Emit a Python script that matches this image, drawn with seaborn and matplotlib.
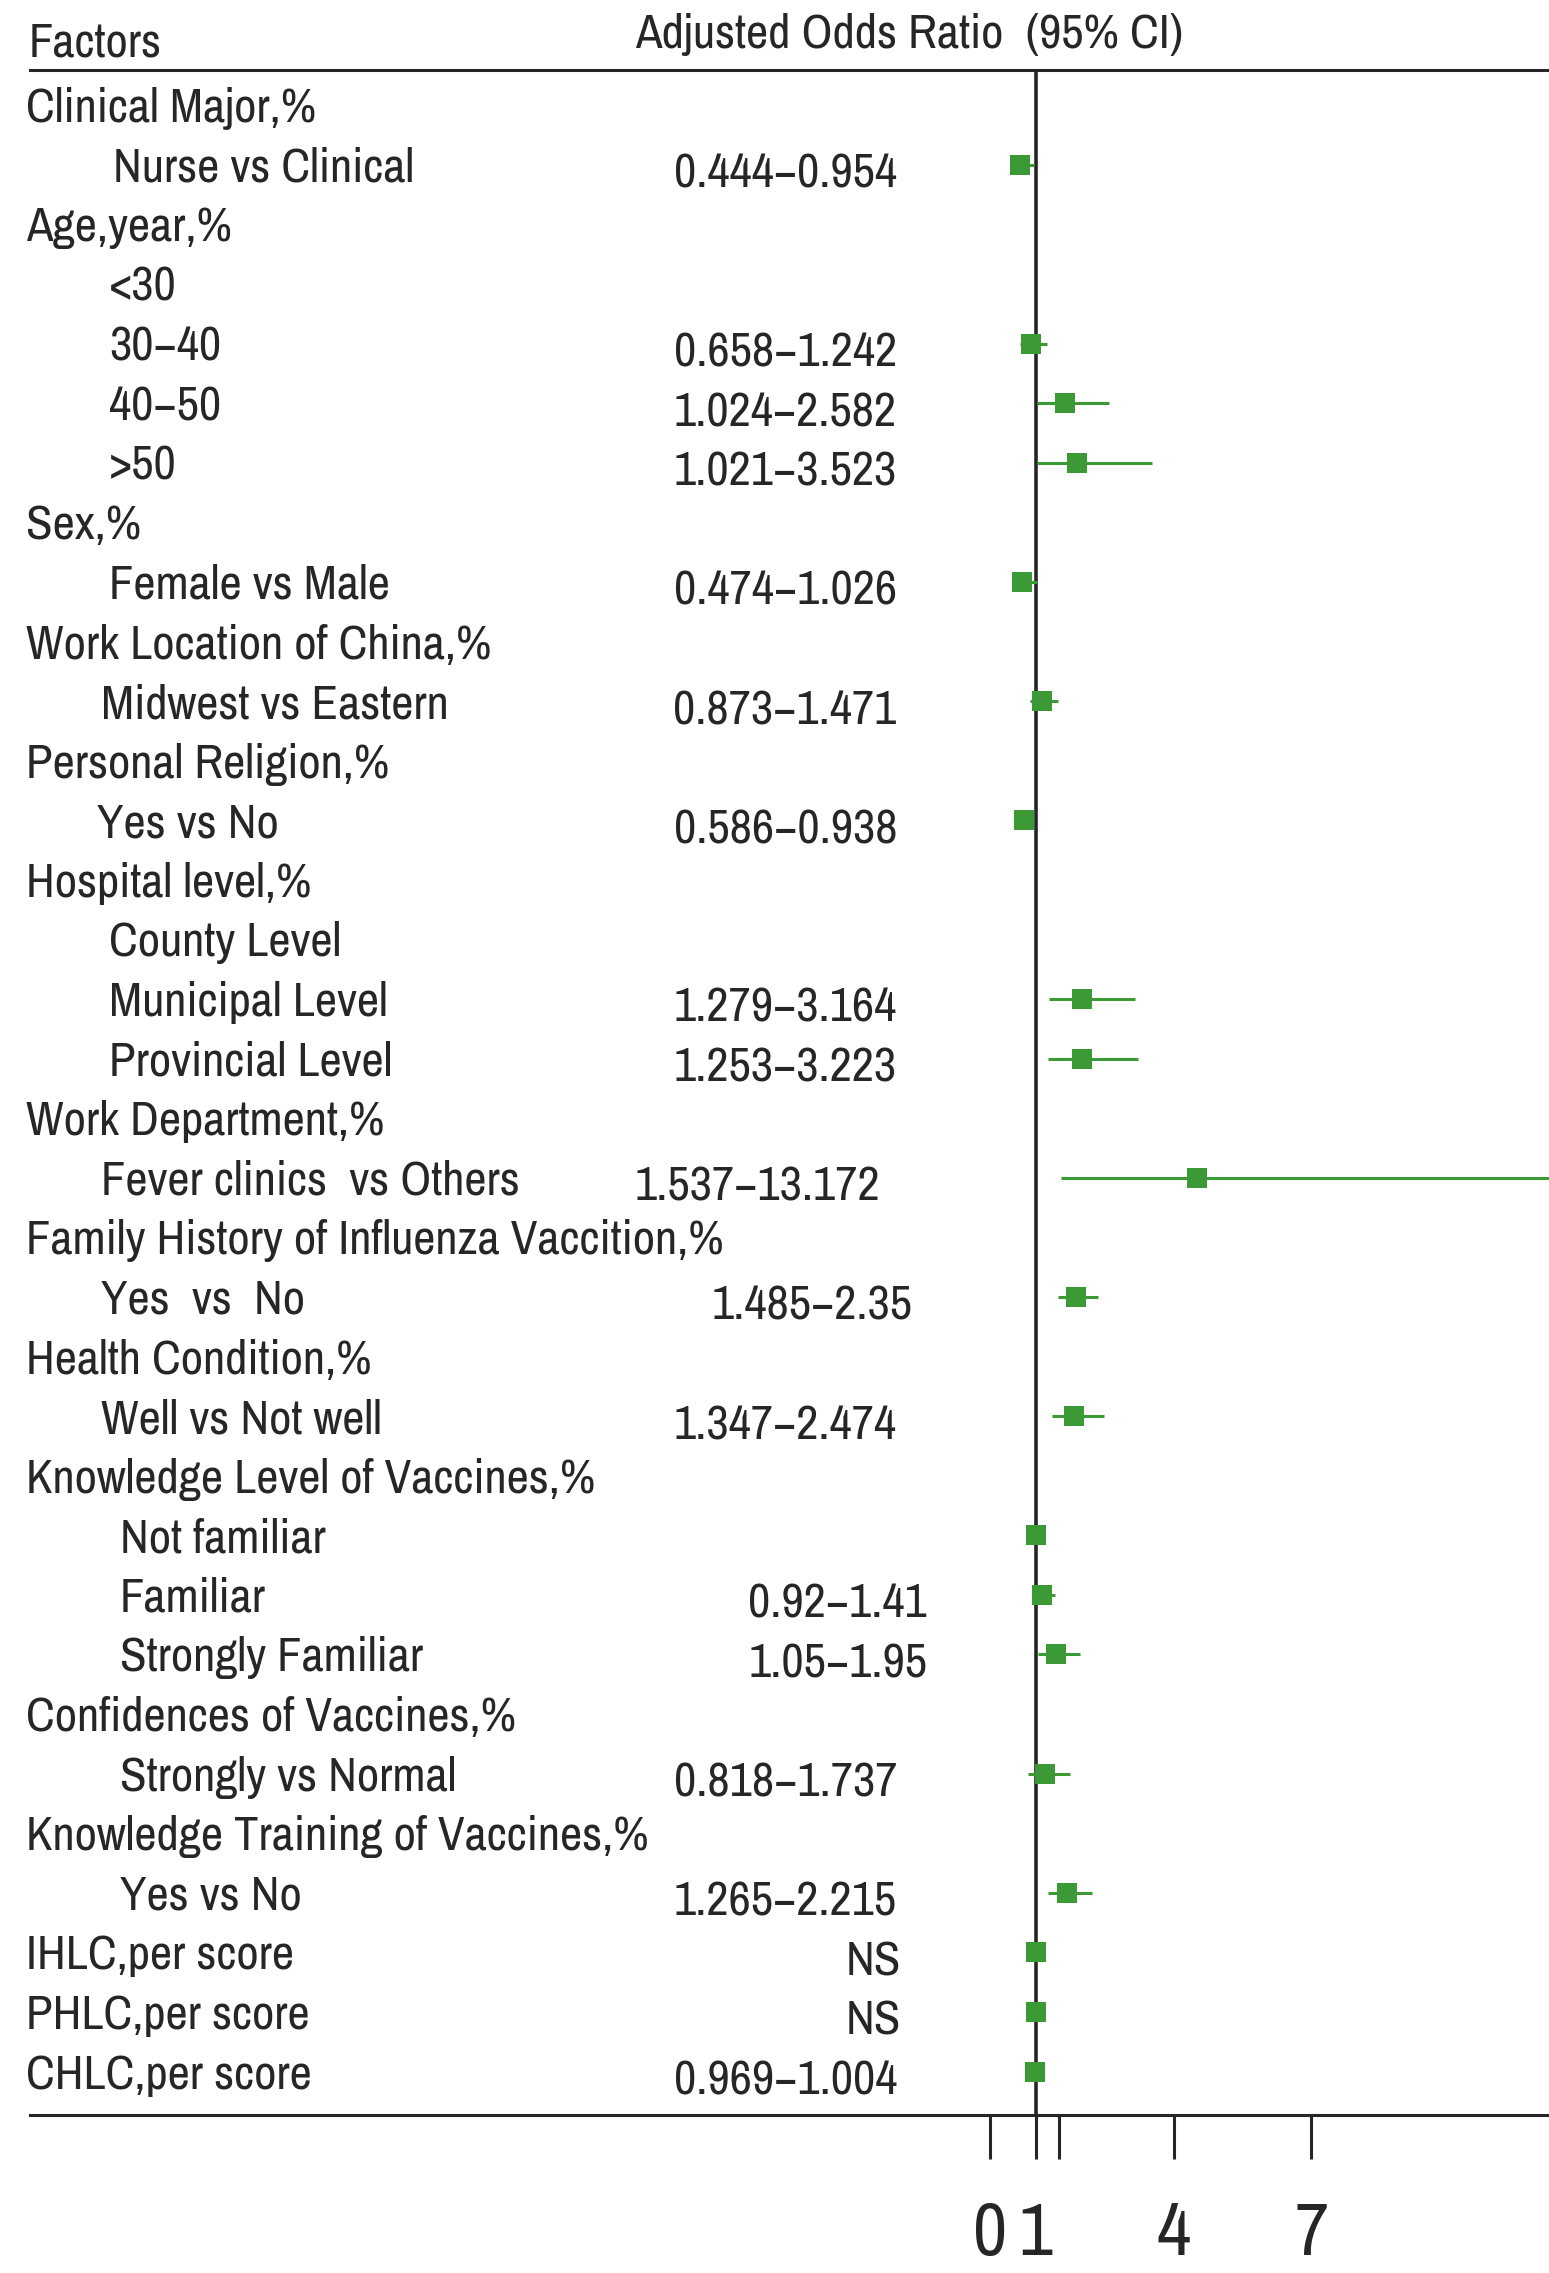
import matplotlib
matplotlib.use("Agg")
import matplotlib.pyplot as plt
import matplotlib.transforms as mtransforms
import numpy as np
import pandas as pd
import seaborn as sns

# ---- data ----
labels = [
    "Clinical Major,%", "Nurse vs Clinical",
    "Age,year,%", "<30", "30\u221240", "40\u221250", ">50",
    "Sex,%", "Female vs Male",
    "Work Location of China,%", "Midwest vs Eastern",
    "Personal Religion,%", "Yes vs No",
    "Hospital level,%", "County Level", "Municipal Level", "Provincial Level",
    "Work Department,%", "Fever clinics  vs Others",
    "Family History of Influenza Vaccition,%", "Yes  vs  No",
    "Health Condition,%", "Well vs Not well",
    "Knowledge Level of Vaccines,%", "Not familiar", "Familiar", "Strongly Familiar",
    "Confidences of Vaccines,%", "Strongly vs Normal",
    "Knowledge Training of Vaccines,%", "Yes vs No",
    "IHLC,per score", "PHLC,per score", "CHLC,per score",
]
ci_text = [
    "", "0.444\u22120.954",
    "", "", "0.658\u22121.242", "1.024\u22122.582", "1.021\u22123.523",
    "", "0.474\u22121.026",
    "", "0.873\u22121.471",
    "", "0.586\u22120.938",
    "", "", "1.279\u22123.164", "1.253\u22123.223",
    "", "1.537\u221213.172",
    "", "1.485\u22122.35",
    "", "1.347\u22122.474",
    "", "", "0.92\u22121.41", "1.05\u22121.95",
    "", "0.818\u22121.737",
    "", "1.265\u22122.215",
    "NS", "NS", "0.969\u22121.004",
]
nan = np.nan
odds_ratio = [
    nan, 0.65,
    nan, nan, 0.90, 1.63, 1.90,
    nan, 0.70,
    nan, 1.13,
    nan, 0.74,
    nan, nan, 2.01, 2.01,
    nan, 4.50,
    nan, 1.87,
    nan, 1.83,
    nan, 1.00, 1.14, 1.43,
    nan, 1.19,
    nan, 1.67,
    1.00, 1.00, 0.99,
]
ci_low = [
    nan, 0.444,
    nan, nan, 0.658, 1.024, 1.021,
    nan, 0.474,
    nan, 0.873,
    nan, 0.586,
    nan, nan, 1.279, 1.253,
    nan, 1.537,
    nan, 1.485,
    nan, 1.347,
    nan, nan, 0.92, 1.05,
    nan, 0.818,
    nan, 1.265,
    nan, nan, 0.969,
]
ci_high = [
    nan, 0.954,
    nan, nan, 1.242, 2.582, 3.523,
    nan, 1.026,
    nan, 1.471,
    nan, 0.938,
    nan, nan, 3.164, 3.223,
    nan, 13.172,
    nan, 2.35,
    nan, 2.474,
    nan, nan, 1.41, 1.95,
    nan, 1.737,
    nan, 2.215,
    nan, nan, 1.004,
]
tick_values = [0, 1, 1.5, 4, 7]
tick_labels = ["0", "1", "", "4", "7"]

# ---- layout (pixels of the 1549x2273 canvas) ----
W, H = 1549, 2273
label_left_px = [
    26, 113, 26, 109, 109, 109, 109, 26, 109, 26, 101, 26, 97, 26, 109, 109, 109,
    26, 101, 26, 101, 26, 101, 26, 120, 120, 120, 26, 120, 26, 120, 26, 26, 26,
]
ci_right_px = [
    0, 897, 0, 0, 897, 897, 897, 0, 897, 0, 896, 0, 897, 0, 0, 897, 897,
    0, 880, 0, 913, 0, 897, 0, 0, 927, 928, 0, 897, 0, 897, 901, 901, 897,
]
GREEN = "#3c9a36"
INK = "#262626"
FS = 35

sns.set_theme(style="white")
plt.rcParams["font.family"] = ["Archivo Narrow", "Liberation Sans", "DejaVu Sans"]

fig = plt.figure(figsize=(W / 100, H / 100), dpi=100)
ax = fig.add_axes([30 / W, (H - 2115) / H, 1 - 30 / W, (2115 - 70) / H])

df = pd.DataFrame({
    "row": np.arange(len(labels)),
    "or": odds_ratio,
    "lo": ci_low,
    "hi": ci_high,
})

ax.axvline(1, color=INK, lw=2.6, zorder=1)
ci = df.dropna(subset=["lo"])
ax.hlines(ci["row"] - 0.06, ci["lo"], ci["hi"], color=GREEN, lw=2.2, zorder=2)
pts = df.dropna(subset=["or"]).assign(row=lambda d: d["row"] - 0.06)
sns.scatterplot(data=pts, x="or", y="row", marker="s", s=220, color=GREEN,
                edgecolor=GREEN, linewidth=0, ax=ax, legend=False, zorder=3)

ax.set_xlim((30 - 990) / 45.9, (W - 990) / 45.9)
ax.set_ylim(33.67, -0.65)
ax.set(xlabel="", ylabel="")
ax.set_yticks([])
ax.set_xticks(tick_values, tick_labels)
ax.tick_params(axis="x", direction="out", length=32, width=2.2, pad=30,
               labelsize=54, color=INK, labelcolor=INK, bottom=True)
for side in ("left", "right"):
    ax.spines[side].set_visible(False)
for side in ("top", "bottom"):
    ax.spines[side].set_color(INK)
    ax.spines[side].set_linewidth(2.2)

trans = mtransforms.blended_transform_factory(fig.transFigure, ax.transData)
for i, (lab, txt) in enumerate(zip(labels, ci_text)):
    ax.text(label_left_px[i] / W, i, lab, transform=trans, ha="left",
            va="center", fontsize=FS, color=INK)
    if txt:
        ax.text(ci_right_px[i] / W, i + 0.1, txt, transform=trans, ha="right",
                va="center", fontsize=FS, color=INK)

fig.text(29 / W, 1 - 43 / H, "Factors", ha="left", va="center", fontsize=FS, color=INK)
fig.text(635 / W, 1 - 35 / H, "Adjusted Odds Ratio  (95% CI)", ha="left",
         va="center", fontsize=FS, color=INK)

fig.savefig("out.png", dpi=100)
